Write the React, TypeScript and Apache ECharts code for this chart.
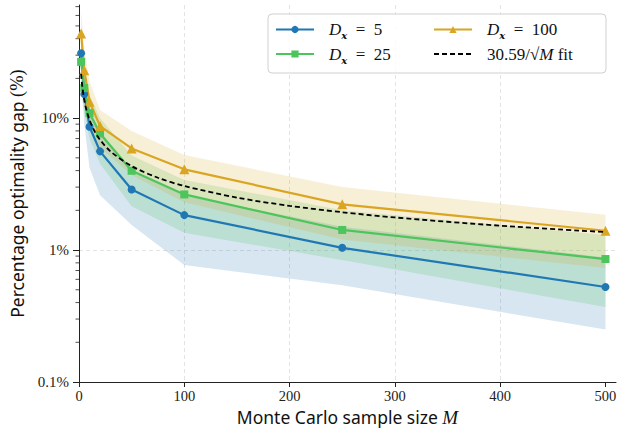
import React, { useEffect, useRef } from "react";
import * as echarts from "echarts";

const M = [2, 5, 10, 20, 50, 100, 250, 500];
const gapD5 = [31, 15.2, 8.6, 5.6, 2.88, 1.84, 1.04, 0.525];
const gapD25 = [26.7, 16.9, 10.9, 7.65, 3.99, 2.64, 1.42, 0.855];
const gapD100 = [43.8, 23.1, 13.3, 8.7, 5.89, 4.09, 2.22, 1.4];

const lowD5 = [20, 9, 4.2, 2.6, 1.55, 0.77, 0.54, 0.25];
const highD5 = [45, 22, 12, 7.5, 4.0, 2.6, 1.5, 0.88];
const lowD25 = [17, 11, 7, 4.5, 2.15, 1.35, 0.84, 0.37];
const highD25 = [38, 24, 15, 10, 5.2, 3.4, 2.0, 1.3];
const lowD100 = [28, 15, 9, 6, 3.7, 2.3, 1.2, 0.73];
const highD100 = [65, 34, 19, 11.5, 8.0, 5.25, 3.0, 1.85];

const fitM = [2, 3, 5, 7, 10, 15, 20, 30, 50, 75, 100, 150, 200, 250, 300, 400, 500];
const fitGap = [21.63, 17.66, 13.68, 11.56, 9.673, 7.898, 6.84, 5.585, 4.326, 3.532, 3.059, 2.498, 2.163, 1.935, 1.766, 1.53, 1.368];

const xTicks = [0, 100, 200, 300, 400, 500];
const yMajor = [0.1, 1, 10];
const yMinor = [0.2, 0.3, 0.4, 0.5, 0.6, 0.7, 0.8, 0.9, 2, 3, 4, 5, 6, 7, 8, 9, 20, 30, 40, 50, 60, 70];

const BLUE = "#1f77b4";
const GREEN = "#4cc55c";
const GOLD = "#daa520";
const SERIF = "'Liberation Serif', 'DejaVu Serif', serif";
const SANS = "'Noto Sans', 'DejaVu Sans', sans-serif";

function bandSeries(lo: number[], hi: number[], color: string) {
  return {
    type: "custom",
    clip: true,
    silent: true,
    z: 1,
    data: [0],
    renderItem: (params: any, api: any) => {
      const pts: number[][] = [];
      for (let i = 0; i < M.length; i++) pts.push(api.coord([M[i], hi[i]]));
      for (let i = M.length - 1; i >= 0; i--) pts.push(api.coord([M[i], lo[i]]));
      return {
        type: "polygon",
        shape: { points: pts },
        style: { fill: color, stroke: "none" },
      };
    },
  };
}

export default function App() {
  const ref = useRef<HTMLDivElement>(null);
  useEffect(() => {
    if (!ref.current) return;
    const chart = echarts.init(ref.current, null, { renderer: "svg" });
    const rich = {
      d: { fontFamily: SERIF, fontStyle: "italic", fontSize: 17, color: "#111", padding: [0, 0, 0, 10], lineHeight: 22, verticalAlign: "middle" },
      x: { fontFamily: "'DejaVu Serif', serif", fontStyle: "italic", fontWeight: "bold", fontSize: 10, color: "#111", lineHeight: 10, verticalAlign: "bottom" },
      n: { fontFamily: SERIF, fontSize: 17, color: "#111", lineHeight: 22, verticalAlign: "middle" },
      f: { fontFamily: SERIF, fontSize: 17, color: "#111", padding: [0, 0, 0, 10], lineHeight: 22, verticalAlign: "middle" },
      m: { fontFamily: SERIF, fontStyle: "italic", fontSize: 17, color: "#111", lineHeight: 22, verticalAlign: "middle" },
    };
    const labels: Record<string, string> = {
      D5: "{d|D}{x|x}{n|  =  5}",
      D25: "{d|D}{x|x}{n|  =  25}",
      D100: "{d|D}{x|x}{n|  =  100}",
      fit: "{f|30.59/√}{m|M}{n| fit}",
    };
    const legendCommon = {
      orient: "vertical",
      padding: 0,
      itemWidth: 38,
      itemHeight: 9,
      itemGap: 5,
      z: 10,
      formatter: (n: string) => labels[n],
      textStyle: { rich },
    };
    chart.setOption({
      animation: false,
      grid: { left: 79, right: 2, top: 5, bottom: 49, outerBoundsMode: "none", containLabel: false },
      graphic: [
        {
          type: "rect",
          z: 9,
          shape: { x: 268, y: 14, width: 338, height: 59, r: 4 },
          style: { fill: "rgba(255,255,255,0.85)", stroke: "#d0d0d0", lineWidth: 1 },
        },
      ],
      legend: [
        { ...legendCommon, left: 275, top: 21, data: ["D5", "D25"] },
        { ...legendCommon, left: 433, top: 21, data: ["D100", { name: "fit", itemStyle: { opacity: 0 } }] },
      ],
      xAxis: {
        type: "value",
        min: 0,
        max: 510,
        interval: 100,
        name: "{a|Monte Carlo sample size }{m|M}",
        nameLocation: "middle",
        nameGap: 25,
        nameTextStyle: {
          rich: {
            a: { fontFamily: SANS, fontSize: 17.5, color: "#111" },
            m: { fontFamily: SERIF, fontStyle: "italic", fontSize: 19, color: "#111" },
          },
        },
        axisLine: { lineStyle: { color: "#222", width: 1 } },
        axisTick: { length: 5, lineStyle: { color: "#222" }, customValues: xTicks },
        axisLabel: { fontFamily: SERIF, fontSize: 14.5, color: "#222", margin: 6, customValues: xTicks },
        splitLine: { show: true, showMaxLine: false, showMinLine: false, lineStyle: { type: [4, 3], color: "#dcdcdc", width: 0.8 } },
      },
      yAxis: {
        type: "log",
        logBase: 10,
        min: 0.1,
        max: 72,
        name: "{a|Percentage optimality gap }{b|(%)}",
        nameLocation: "middle",
        nameGap: 51,
        nameRotate: 90,
        nameTextStyle: {
          rich: {
            a: { fontFamily: SANS, fontSize: 17.5, color: "#111" },
            b: { fontFamily: SERIF, fontSize: 18.5, color: "#111" },
          },
        },
        axisLine: { show: true, lineStyle: { color: "#222", width: 1 } },
        axisTick: { show: true, length: 6, lineStyle: { color: "#222" }, customValues: yMajor },
        axisLabel: {
          fontFamily: SERIF,
          fontSize: 15,
          color: "#222",
          margin: 10,
          customValues: yMajor,
          formatter: (v: number) => `${+v.toPrecision(3)}%`,
        },
        splitLine: { show: true, showMaxLine: false, showMinLine: false, lineStyle: { type: [4, 3], color: "#dcdcdc", width: 0.8 } },
      },
      series: [
        bandSeries(lowD5, highD5, "rgba(31,119,180,0.18)"),
        bandSeries(lowD25, highD25, "rgba(76,197,92,0.2)"),
        bandSeries(lowD100, highD100, "rgba(218,165,32,0.18)"),
        {
          type: "custom",
          silent: true,
          clip: false,
          z: 3,
          data: yMinor,
          renderItem: (params: any, api: any) => {
            const p = api.coord([0, api.value(0)]);
            return {
              type: "line",
              shape: { x1: p[0] - 3.5, y1: p[1], x2: p[0], y2: p[1] },
              style: { stroke: "#222", lineWidth: 0.8 },
            };
          },
          encode: { x: -1, y: 0 },
        },
        {
          name: "D5",
          type: "line",
          z: 4,
          data: M.map((m, i) => [m, gapD5[i]]),
          color: BLUE,
          lineStyle: { width: 2.2, color: BLUE },
          symbol: "circle",
          symbolSize: 8,
          itemStyle: { color: BLUE },
        },
        {
          name: "D25",
          type: "line",
          z: 4,
          data: M.map((m, i) => [m, gapD25[i]]),
          color: GREEN,
          lineStyle: { width: 2.2, color: GREEN },
          symbol: "rect",
          symbolSize: 8,
          itemStyle: { color: GREEN },
        },
        {
          name: "D100",
          type: "line",
          z: 4,
          data: M.map((m, i) => [m, gapD100[i]]),
          color: GOLD,
          lineStyle: { width: 2.2, color: GOLD },
          symbol: "triangle",
          symbolSize: 10,
          itemStyle: { color: GOLD },
        },
        {
          name: "fit",
          type: "line",
          z: 5,
          data: fitM.map((m, i) => [m, fitGap[i]]),
          color: "#000",
          symbol: "none",
          smooth: 0.3,
          lineStyle: { width: 1.8, color: "#000", type: [5, 3] },
        },
      ],
    });
    return () => chart.dispose();
  }, []);
  return <div ref={ref} style={{ width: 618, height: 431, position: "absolute", left: 0, top: 0 }} />;
}
